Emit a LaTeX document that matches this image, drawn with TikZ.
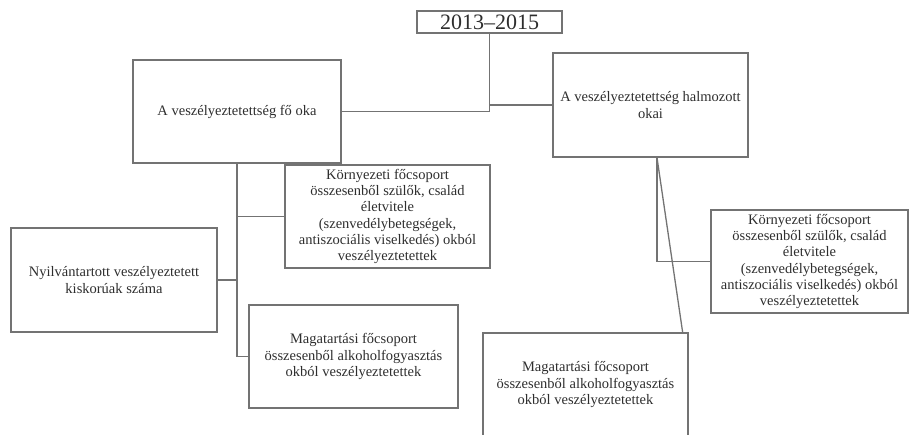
\documentclass[tikz,border=0pt]{standalone}
\usepackage{fontspec}
\setmainfont{Liberation Serif}
\usetikzlibrary{calc}
\definecolor{edge}{gray}{0.45}
\definecolor{ink}{gray}{0.18}
\tikzset{
  box/.style={draw=edge, line width=1.3pt, inner sep=0pt, align=center, text=ink,
    font=\fontsize{14.5}{16.3}\selectfont},
  conn/.style={draw=edge, line width=1.3pt}
}
\begin{document}
\begin{tikzpicture}[x=1pt,y=-1pt]
\useasboundingbox (0,0) rectangle (910,434);
\clip (0,0) rectangle (910,434);
\node[box, minimum width=145pt, minimum height=22pt, font=\fontsize{22}{24}\selectfont] (top) at (489.5,22) {2013--2015};
\node[box, minimum width=208pt, minimum height=103pt] (L) at (237,111.5) {A veszélyeztetettség fő oka};
\node[box, minimum width=195pt, minimum height=104pt] (R) at (650.5,105) {A veszélyeztetettség halmozott\\okai};
\node[box, minimum width=205pt, minimum height=103pt] (K1) at (387.5,216.5) {Környezeti főcsoport\\összesenből szülők, család\\életvitele\\(szenvedélybetegségek,\\antiszociális viselkedés) okból\\veszélyeztetettek};
\node[box, minimum width=206pt, minimum height=104pt] (N) at (114,280) {Nyilvántartott veszélyeztetett\\kiskorúak száma};
\node[box, minimum width=209pt, minimum height=103pt] (M1) at (353.5,356.5) {Magatartási főcsoport\\összesenből alkoholfogyasztás\\okból veszélyeztetettek};
\node[box, minimum width=197pt, minimum height=103pt] (K2) at (809.5,261.5) {Környezeti főcsoport\\összesenből szülők, család\\életvitele\\(szenvedélybetegségek,\\antiszociális viselkedés) okból\\veszélyeztetettek};
\node[box, minimum width=205pt, minimum height=103pt] (M2) at (585.5,384.5) {Magatartási főcsoport\\összesenből alkoholfogyasztás\\okból veszélyeztetettek};
% connectors
\draw[conn] (top.south) |- (L.east);
\draw[conn] (top.south |- R.west) -- (R.west);
\draw[conn] (L.south) |- (M1.west);
\draw[conn] (L.south |- K1.west) -- (K1.west);
\draw[conn] (L.south |- N.east) -- (N.east);
\coordinate (rA) at ($(R.south)+(6.5,0)$);
\coordinate (m2t) at ($(M2.north east)+(-6,0)$);
\draw[conn] (rA) |- (K2.west);
\draw[conn] (rA) -- (m2t);
\end{tikzpicture}
\end{document}
